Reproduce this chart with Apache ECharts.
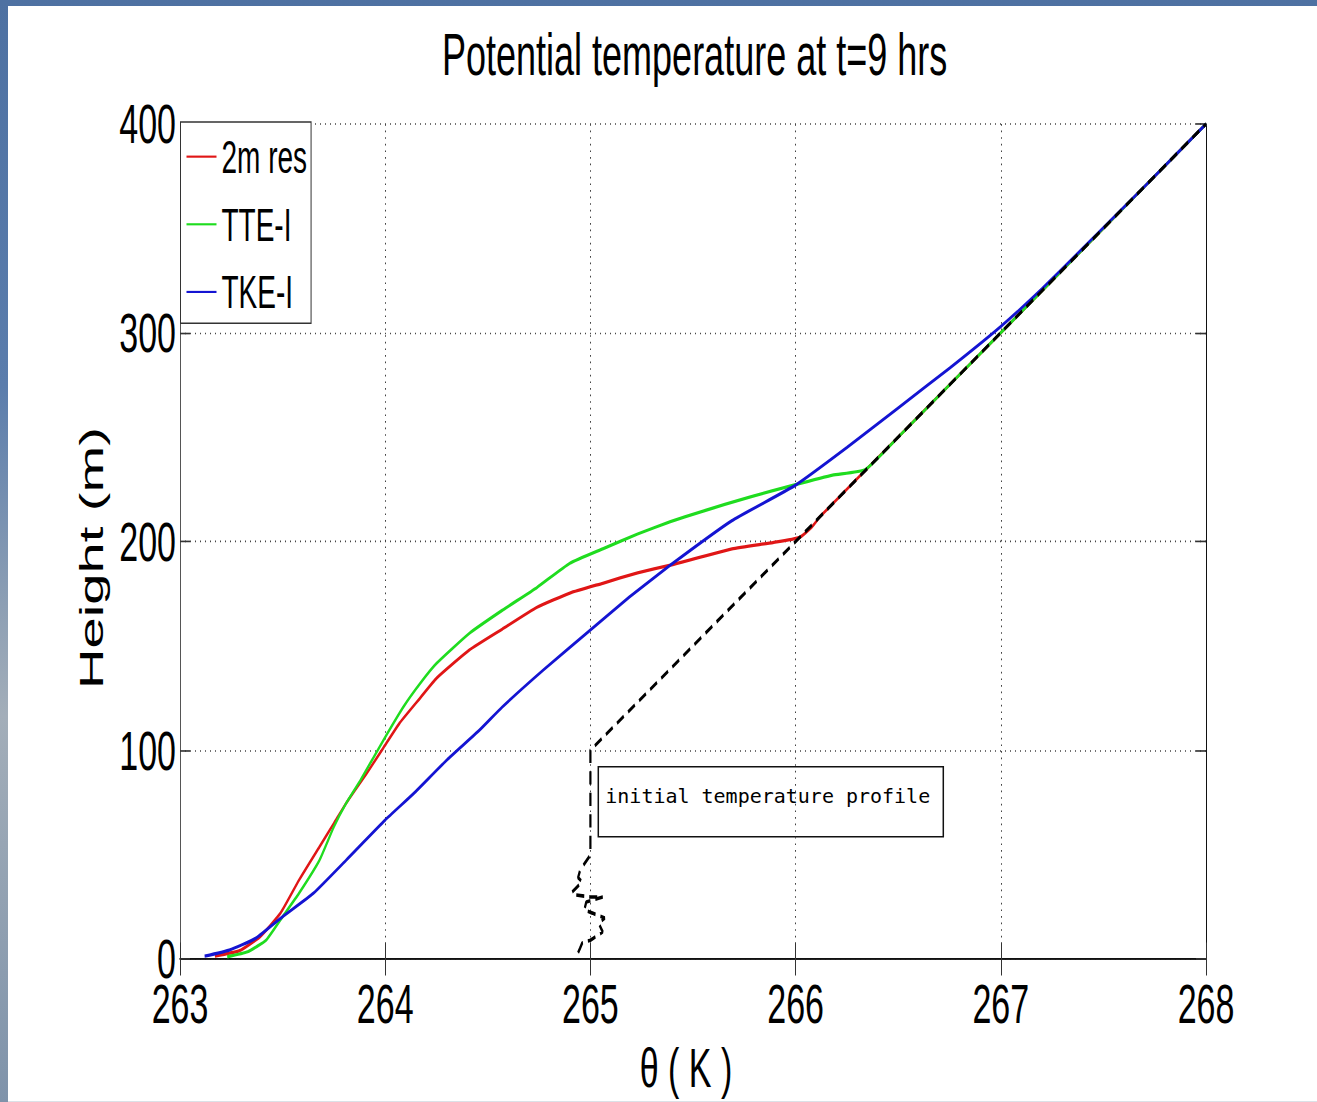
<!DOCTYPE html>
<html>
<head>
<meta charset="utf-8">
<title>Potential temperature at t=9 hrs</title>
<script src="https://cdn.jsdelivr.net/npm/echarts@6.0.0/dist/echarts.min.js"></script>
<style>
html, body { margin: 0; padding: 0; }
body {
	width: 1317px; height: 1102px; overflow: hidden; position: relative;
	background: linear-gradient(180deg, #4e71a2 0%, #5b7dac 35%, #8d9fb4 55%, #a3aeb9 65%, #7f93aa 100%);
}
/* the figure is a vertically stretched matlab plot, so draw it squat and stretch it */
#chart {
	position: absolute; left: 8px; top: 6px; width: 1309px; height: 664px;
	background: #fff; transform: scaleY(1.65); transform-origin: 0 0;
}
</style>
</head>
<body>
<div id="chart"></div>
<script>
var S = 1.65;
var fontMain = '"Liberation Sans", Arial, Helvetica, sans-serif';

// axis ranges
var thetaMin = 263, thetaMax = 268, thetaStep = 1;
var heightMin = 0, heightMax = 400, heightStep = 100;

// 2m res
var redTheta  = [263.17, 263.29, 263.39, 263.49, 263.58, 263.68, 263.75, 263.81, 263.91, 263.99, 264.07, 264.17, 264.25, 264.41, 264.57, 264.74, 264.90, 265.06, 265.23, 265.39, 265.69, 265.89, 266.02, 266.08, 266.12, 266.5, 266.75, 267.0, 267.5, 268.0];
var redHeight = [1.4, 4, 10.7, 22, 37.8, 53.8, 65, 74.7, 89, 101, 113, 125, 134.5, 148, 158, 168.5, 175.3, 180, 185, 188.7, 196.5, 199.5, 202, 207, 212, 250, 275, 300, 350, 400];

// TTE-I
var greenTheta  = [263.23, 263.33, 263.42, 263.50, 263.58, 263.68, 263.75, 263.81, 263.88, 263.94, 264.01, 264.09, 264.17, 264.25, 264.41, 264.57, 264.74, 264.90, 265.06, 265.23, 265.39, 265.53, 265.78, 265.99, 266.18, 266.34, 266.5, 266.75, 267.0, 267.5, 268.0];
var greenHeight = [1.1, 3.5, 9.1, 20.3, 31.5, 47.4, 63.4, 74.7, 85.7, 96, 108, 121, 132, 141.6, 156, 167, 178, 189.6, 196.5, 203.6, 209.5, 214, 221.4, 227, 231.8, 234.5, 250, 275, 300, 350, 400];

// TKE-I
var blueTheta  = [263.12, 263.24, 263.37, 263.50, 263.65, 263.81, 264.0, 264.14, 264.30, 264.46, 264.57, 264.77, 265.0, 265.19, 265.39, 265.69, 266.0, 266.25, 266.5, 266.75, 267.0, 267.2, 267.4, 267.7, 268.0];
var blueHeight = [1.4, 4.3, 10, 20.3, 31.5, 47.4, 66.6, 79.4, 95.3, 109.7, 120.7, 138.4, 157.6, 173.4, 188.7, 210, 227, 245, 264, 283, 303, 321, 340.5, 370, 400];

// initial temperature profile (dashed)
var initTheta  = [264.94, 264.95, 264.96, 265.0, 265.06, 265.04, 265.07, 265.01, 264.97, 264.98, 265.06, 265.0, 264.93, 264.91, 264.96, 264.94, 264.95, 265.0, 265.0, 268.0];
var initHeight = [3, 5.3, 7.7, 9, 13, 17.2, 19.6, 22, 23.5, 27.3, 29.7, 29.7, 30.7, 32, 37, 39, 42.6, 49.8, 100, 400];

var legendNames = ['2m res', 'TTE-I', 'TKE-I'];

function pairs(xs, ys){
	var out = [];
	for(var i = 0; i < xs.length; i++){
		out.push([xs[i], ys[i]]);
	}
	return out;
}

function curve(name, color, xs, ys){
	return {
		name: name,
		type: 'line',
		data: pairs(xs, ys),
		symbol: 'none',
		smooth: 0.15,
		z: 2,
		itemStyle: { color: color },
		lineStyle: { color: color, width: 2 }
	};
}

var chart = echarts.init(document.getElementById('chart'), null, { renderer: 'svg' });

var option = {
	animation: false,
	backgroundColor: '#fff',
	title: {
		text: 'Potential temperature at t=9 hrs',
		left: 429,
		top: 6.5,
		textStyle: { fontFamily: fontMain, fontSize: 36, fontWeight: 'normal', color: '#000' }
	},
	grid: { left: 172, right: 111, top: 71.5, bottom: 86.4, outerBoundsMode: 'none', containLabel: false },
	legend: {
		data: legendNames,
		orient: 'vertical',
		left: 172.5,
		top: 70.3,
		padding: [7, 4, 5, 6],
		itemGap: 13,
		itemWidth: 30,
		itemHeight: 1.3,
		icon: 'rect',
		selectedMode: false,
		backgroundColor: '#fff',
		borderColor: '#333',
		borderWidth: 1,
		textStyle: { fontFamily: fontMain, fontSize: 28, color: '#000', lineHeight: 28 }
	},
	xAxis: [{
		type: 'value',
		min: thetaMin, max: thetaMax, interval: thetaStep,
		name: 'θ ( K )',
		nameLocation: 'middle',
		nameGap: 43.5,
		nameTextStyle: { fontFamily: fontMain, fontSize: 34, color: '#000', padding: [0, 14, 0, 0] },
		axisLine: { show: true, lineStyle: { color: '#333', width: 1 } },
		axisTick: { show: true, inside: true, length: 10, lineStyle: { color: '#333' } },
		axisLabel: { fontFamily: fontMain, fontSize: 34, color: '#000', margin: 10, showMinLabel: true, showMaxLabel: true },
		splitLine: { show: true, lineStyle: { color: '#444', width: 1, type: [1, 3] } }
	}, {
		type: 'value', position: 'top',
		min: thetaMin, max: thetaMax, interval: thetaStep,
		axisLine: { show: true, lineStyle: { color: '#111', width: 1 } },
		axisTick: { show: true, inside: true, length: 10, lineStyle: { color: '#333' } },
		axisLabel: { show: false },
		splitLine: { show: false }
	}],
	yAxis: [{
		type: 'value',
		min: heightMin, max: heightMax, interval: heightStep,
		name: 'Height (m)',
		nameLocation: 'middle',
		nameGap: 72,
		nameTextStyle: { fontFamily: fontMain, fontSize: 34, color: '#000', padding: [0, 20, 0, 0] },
		axisLine: { show: true, lineStyle: { color: '#555', width: 1 } },
		axisTick: { show: true, inside: true, length: 10, lineStyle: { color: '#333' } },
		axisLabel: { fontFamily: fontMain, fontSize: 34, color: '#000', margin: 4, padding: [8, 0, 0, 0] },
		splitLine: { show: true, lineStyle: { color: '#444', width: 1, type: [1, 4] } }
	}, {
		type: 'value', position: 'right',
		min: heightMin, max: heightMax, interval: heightStep,
		axisLine: { show: true, lineStyle: { color: '#111', width: 1 } },
		axisTick: { show: true, inside: true, length: 10, lineStyle: { color: '#333' } },
		axisLabel: { show: false },
		splitLine: { show: false }
	}],
	series: [
		curve('2m res', '#e01616', redTheta, redHeight),
		curve('TTE-I', '#1fdc1f', greenTheta, greenHeight),
		curve('TKE-I', '#1414d2', blueTheta, blueHeight),
		{
			name: 'initial temperature profile',
			type: 'line',
			data: pairs(initTheta, initHeight),
			symbol: 'none',
			z: 3,
			lineStyle: { color: '#000', width: 2.2, type: [8, 5] }
		}
	],
	// annotation box, un-stretched so the mono text keeps its shape
	graphic: [{
		type: 'group',
		x: 590.3,
		y: 461,
		scaleY: 1 / S,
		children: [{
			type: 'rect',
			shape: { x: 0, y: 0, width: 345, height: 70 },
			style: { fill: 'none', stroke: '#111', lineWidth: 1.5 }
		}, {
			type: 'text',
			x: 7,
			y: 19,
			style: {
				text: 'initial temperature profile',
				fontFamily: '"DejaVu Sans Mono", "Liberation Mono", monospace',
				fontSize: 20,
				fill: '#000',
				align: 'left', verticalAlign: 'top',
				textAlign: 'left', textVerticalAlign: 'top'
			}
		}]
	}]
};
chart.setOption(option);
</script>
</body>
</html>
